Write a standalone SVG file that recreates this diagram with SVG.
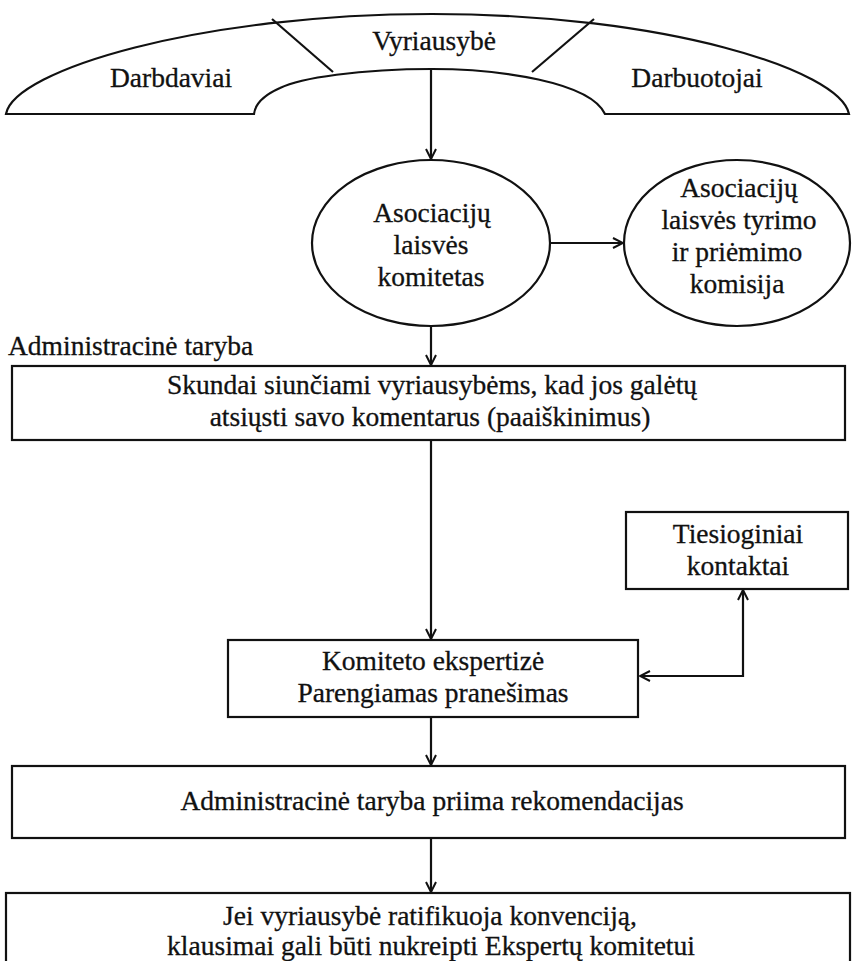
<svg xmlns="http://www.w3.org/2000/svg" width="855" height="961" viewBox="0 0 855 961">
<style>
.s{fill:none;stroke:#111;stroke-width:2.2}
.b{fill:#fff;stroke:#111;stroke-width:2.2}
text{font-family:'Liberation Serif','Times New Roman',serif;font-size:27.5px;fill:#111;stroke:#111;stroke-width:0.3;text-anchor:middle}
.l{text-anchor:start}
</style>
<defs>
<marker id="a" viewBox="0 0 12 12" refX="11" refY="6" markerWidth="12" markerHeight="12" markerUnits="userSpaceOnUse" orient="auto">
<path d="M1,1 L11,6 L1,11" fill="none" stroke="#111" stroke-width="2"/>
</marker>
</defs>
<g id="top">
<path class="b" d="M6,114 C14,70 200,14 432,14 C664,14 840,70 849,114 L605,114 C590,82 500,69 432,69 C360,69 300,78 280,88 C262,96 255,105 254,114 Z"/>
<line class="s" x1="272" y1="19" x2="333" y2="72"/>
<line class="s" x1="594" y1="19" x2="532" y2="72"/>
<text x="434" y="50">Vyriausybė</text>
<text x="171" y="87">Darbdaviai</text>
<text x="697" y="87">Darbuotojai</text>
</g>
<g id="e1">
<ellipse class="b" cx="431" cy="243" rx="119" ry="83"/>
<text x="432" y="222">Asociacijų</text>
<text x="431" y="254">laisvės</text>
<text x="431" y="286">komitetas</text>
</g>
<g id="e2">
<ellipse class="b" cx="737" cy="243" rx="113" ry="83"/>
<text x="739" y="197">Asociacijų</text>
<text x="739" y="229">laisvės tyrimo</text>
<text x="737" y="261">ir priėmimo</text>
<text x="737" y="293">komisija</text>
</g>
<text class="l" x="8" y="355">Administracinė taryba</text>
<g id="b1">
<rect class="b" x="12" y="366" width="833" height="74"/>
<text x="432" y="394">Skundai siunčiami vyriausybėms, kad jos galėtų</text>
<text x="430" y="426">atsiųsti savo komentarus (paaiškinimus)</text>
</g>
<g id="tk">
<rect class="b" x="626" y="512" width="222" height="77"/>
<text x="738" y="543">Tiesioginiai</text>
<text x="738" y="575">kontaktai</text>
</g>
<g id="b2">
<rect class="b" x="228" y="640" width="410" height="77"/>
<text x="433" y="670">Komiteto ekspertizė</text>
<text x="433" y="702">Parengiamas pranešimas</text>
</g>
<g id="b3">
<rect class="b" x="12" y="766" width="833" height="72"/>
<text x="432" y="810">Administracinė taryba priima rekomendacijas</text>
</g>
<g id="b4">
<rect class="b" x="6" y="893" width="844" height="80"/>
<text x="430" y="925">Jei vyriausybė ratifikuoja konvenciją,</text>
<text x="431" y="955">klausimai gali būti nukreipti Ekspertų komitetui</text>
</g>
<g id="connectors">
<line class="s" x1="431" y1="69" x2="431" y2="159" marker-end="url(#a)"/>
<line class="s" x1="550" y1="243" x2="623" y2="243" marker-end="url(#a)"/>
<line class="s" x1="431" y1="326" x2="431" y2="365" marker-end="url(#a)"/>
<line class="s" x1="431" y1="440" x2="431" y2="639" marker-end="url(#a)"/>
<polyline class="s" points="743,677 743,590" marker-end="url(#a)"/>
<polyline class="s" points="743,676 640,676" marker-end="url(#a)"/>
<line class="s" x1="431" y1="717" x2="431" y2="765" marker-end="url(#a)"/>
<line class="s" x1="431" y1="838" x2="431" y2="892" marker-end="url(#a)"/>
</g>
</svg>
